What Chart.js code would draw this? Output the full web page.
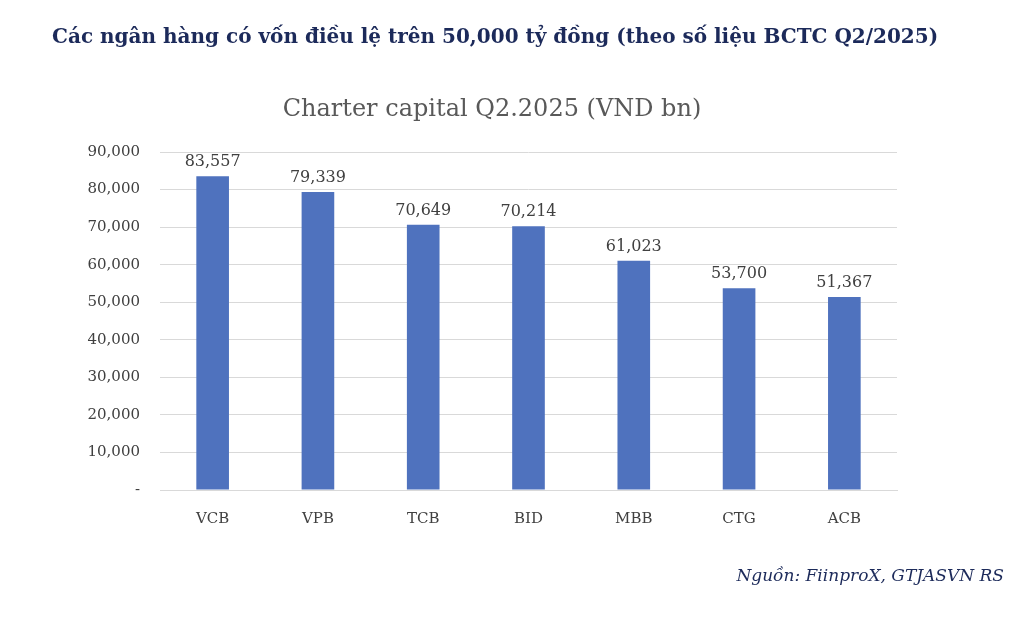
<!DOCTYPE html>
<html>
<head>
<meta charset="utf-8">
<script src="https://cdn.jsdelivr.net/npm/chart.js@4/dist/chart.umd.min.js"></script>
<style>
  body { margin: 0; background: #fff; font-family: "DejaVu Serif", serif; }
  #wrap { position: relative; width: 1028px; height: 632px; }
  #head { position: absolute; left: 52px; top: 24px; font-size: 20px; font-weight: bold; color: #1c2a5a; white-space: nowrap; }
  #title { position: absolute; left: 0; width: 984px; top: 94px; text-align: center; font-size: 24px; color: #595959; }
  #src { position: absolute; right: 24px; top: 565px; font-size: 17px; font-style: italic; color: #1c2a5a; }
  #box { position: absolute; left: 0; top: 0; width: 1028px; height: 632px; }
</style>
</head>
<body>
<div id="wrap">
  <div id="box"><canvas id="c"></canvas></div>
  <div id="head">Các ngân hàng có vốn điều lệ trên 50,000 tỷ đồng (theo số liệu BCTC Q2/2025)</div>
  <div id="title">Charter capital Q2.2025 (VND bn)</div>
  <div id="src">Nguồn: FiinproX, GTJASVN RS</div>
</div>
<script>
const banks = ['VCB', 'VPB', 'TCB', 'BID', 'MBB', 'CTG', 'ACB'];
const capital = [83557, 79339, 70649, 70214, 61023, 53700, 51367];

const fmt = v => v === 0 ? '-' : v.toLocaleString('en-US');

// value labels above each bar
const barLabels = {
    id: 'barLabels',
    afterDatasetsDraw(chart) {
        const ctx = chart.ctx;
        ctx.save();
        ctx.font = '16px "DejaVu Serif"';
        ctx.fillStyle = '#404040';
        ctx.textAlign = 'center';
        ctx.textBaseline = 'bottom';
        chart.getDatasetMeta(0).data.forEach((bar, i) => {
            ctx.fillText(fmt(capital[i]), bar.x, bar.y - 6);
        });
        ctx.restore();
    }
};

new Chart(document.getElementById('c'), {
    type: 'bar',
    data: {
        labels: banks,
        datasets: [{
            data: capital,
            backgroundColor: '#4f72be',
            barPercentage: 0.31,
            categoryPercentage: 1
        }]
    },
    options: {
        responsive: true,
        maintainAspectRatio: false,
        animation: false,
        layout: { padding: { left: 60, right: 131, top: 152, bottom: 102 } },
        plugins: { legend: { display: false }, tooltip: { enabled: false } },
        scales: {
            x: {
                afterFit: s => { s.height = 40; },
                grid: { display: false },
                border: { color: '#d9d9d9' },
                ticks: { font: { family: 'DejaVu Serif', size: 15 }, color: '#404040', padding: 12 }
            },
            y: {
                min: 0, max: 90000,
                afterFit: s => { s.width = 100; },
                grid: { color: '#d9d9d9', drawTicks: false },
                border: { display: false },
                ticks: {
                    stepSize: 10000,
                    padding: 20,
                    font: { family: 'DejaVu Serif', size: 15 },
                    color: '#404040',
                    callback: v => fmt(v)
                }
            }
        }
    },
    plugins: [barLabels]
});
</script>
</body>
</html>
